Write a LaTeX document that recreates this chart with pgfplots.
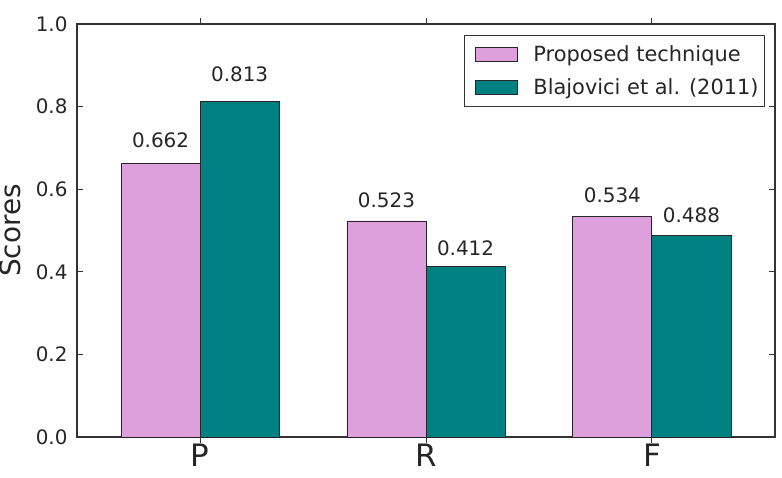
\documentclass[border=0pt]{standalone}
\usepackage{fontspec}
\setmainfont{DejaVu Sans}
\usepackage{pgfplots}
\usepackage{pgfplotstable}
\pgfplotsset{compat=1.18}
\definecolor{myplum}{HTML}{DDA0DD}
\definecolor{myteal}{HTML}{008080}
\pgfplotstableread{
x p b
0 0.662 0.813
1 0.523 0.412
2 0.534 0.488
}\data
\begin{document}
\begin{tikzpicture}
\begin{axis}[
  scale only axis, width=698bp, height=413bp,
  xmin=-0.545, xmax=2.545, ymin=0, ymax=1,
  xtick={0,1,2}, xticklabels={P,R,F},
  ytick={0,0.2,0.4,0.6,0.8,1.0},
  /pgf/number format/assume math mode=true,
  yticklabel={\pgfmathprintnumber[fixed,precision=1,fixed zerofill]{\tick}},
  tick align=inside, major tick length=6bp,
  every tick/.style={black!80, line width=0.8bp},
  axis line style={black!80, line width=1.2bp},
  yticklabel style={font=\fontsize{20}{24}\selectfont, text=black!85, xshift=-6bp},
  xticklabel style={font=\fontsize{31}{36}\selectfont, text=black!85, yshift=3bp},
  ylabel={Scores},
  ylabel style={at={(axis description cs:-0.0953,0.5)}, anchor=center, font=\fontsize{28}{32}\selectfont, text=black!85},
  ybar,
  legend style={at={(rel axis cs:1,1)}, anchor=north east, xshift=-10bp, yshift=-11bp,
    font=\fontsize{21}{25}\selectfont, text=black!85, draw=black!80, line width=0.8bp,
    row sep=11bp, inner xsep=4bp, inner ysep=8.5bp},
  legend cell align=left,
  visualization depends on={y \as \rawy},
  nodes near coords,
  nodes near coords style={anchor=south, inner sep=0pt, yshift={\rawy*20.65bp+2bp},
    font=\fontsize{20}{24}\selectfont, text=black!85,
    /pgf/number format/fixed, /pgf/number format/precision=3, /pgf/number format/fixed zerofill},
]
\addplot[ybar, bar width=0.35, bar shift=-0.175, fill=myplum, draw=black!85, line width=0.8bp,
  legend image code/.code={\path (0bp,0bp) (62bp,0bp); \draw[fill=myplum, draw=black!85, line width=0.8bp] (6bp,-7bp) rectangle (48bp,7bp);}
] table[x=x, y=p] {\data};
\addlegendentry{Proposed technique}
\addplot[ybar, bar width=0.35, bar shift=0.175, fill=myteal, draw=black!85, line width=0.8bp,
  legend image code/.code={\path (0bp,0bp) (62bp,0bp); \draw[fill=myteal, draw=black!85, line width=0.8bp] (6bp,-7bp) rectangle (48bp,7bp);}
] table[x=x, y=b] {\data};
\addlegendentry{Blajovici et al. (2011)}
\end{axis}
\pgfresetboundingbox
\path (current axis.south west) ++(-77bp,-41bp) rectangle ++(782bp,478bp);
\end{tikzpicture}
\end{document}
